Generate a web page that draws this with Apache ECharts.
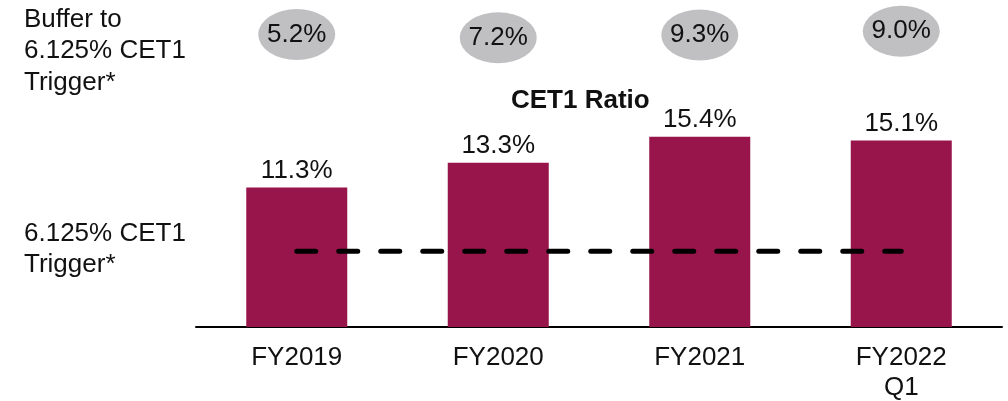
<!DOCTYPE html>
<html>
<head>
<meta charset="utf-8">
<script src="https://cdn.jsdelivr.net/npm/echarts@6/dist/echarts.min.js"></script>
<style>
  html, body { margin: 0; padding: 0; background: #fff; }
  #chart { width: 1008px; height: 401px; }
</style>
</head>
<body>
<div id="chart"></div>
<script>
// Periods on the x axis
const categories = ['FY2019', 'FY2020', 'FY2021', 'FY2022\nQ1'];
// CET1 ratio per period (%)
const cet1Ratio = [11.3, 13.3, 15.4, 15.1];
// Buffer above the trigger per period (percentage points)
const bufferToTrigger = [5.2, 7.2, 9.3, 9.0];
// Regulatory trigger level (%)
const triggerLevel = 6.125;

// Small vertical nudges for the buffer bubbles (style only)
const bubbleNudge = [-0.5, 2.7, 0, -3.7];

const FONT = '"Liberation Sans", Arial, sans-serif';
const chart = echarts.init(document.getElementById('chart'), null, { renderer: 'canvas' });

const option = {
  animation: false,
  backgroundColor: '#ffffff',
  grid: [
    { left: 196, right: 6, top: 80, bottom: 74, outerBoundsMode: 'none', containLabel: false },
    { left: 196, right: 6, top: 0, height: 70, outerBoundsMode: 'none', containLabel: false }
  ],
  xAxis: [
    {
      type: 'category', gridIndex: 0, data: categories,
      axisLine: { lineStyle: { color: '#000', width: 2 } },
      axisTick: { show: false },
      axisLabel: { color: '#111', fontSize: 26, fontFamily: FONT, margin: 16, lineHeight: 30 }
    },
    {
      type: 'category', gridIndex: 1, data: categories,
      show: false
    }
  ],
  yAxis: [
    { type: 'value', gridIndex: 0, min: 0, max: 20, show: false },
    { type: 'value', gridIndex: 1, min: 0, max: 1, show: false }
  ],
  series: [
    {
      name: 'CET1 Ratio',
      type: 'bar',
      xAxisIndex: 0, yAxisIndex: 0,
      data: cet1Ratio,
      barWidth: 101,
      itemStyle: { color: '#97154A' },
      label: {
        show: true, position: 'top', distance: 4,
        formatter: p => p.value.toFixed(1) + '%',
        color: '#111', fontSize: 26, fontFamily: FONT
      },
      z: 2
    },
    {
      name: 'Trigger',
      type: 'line',
      xAxisIndex: 0, yAxisIndex: 0,
      data: categories.map(() => triggerLevel),
      symbol: 'none',
      lineStyle: { color: '#000', width: 5, type: [19, 23], cap: 'round' },
      z: 5
    },
    {
      name: 'Buffer',
      type: 'scatter',
      xAxisIndex: 1, yAxisIndex: 1,
      data: bufferToTrigger.map((v, i) => ({
        value: [i, 0.5, v],
        symbolOffset: [0, bubbleNudge[i]]
      })),
      symbol: 'circle',
      symbolSize: [77, 51],
      itemStyle: { color: '#C0C0C3', opacity: 1 },
      label: {
        show: true, position: 'inside',
        formatter: p => p.value[2].toFixed(1) + '%',
        color: '#111', fontSize: 26, fontFamily: FONT,
        textBorderWidth: 0, opacity: 1
      }
    }
  ],
  graphic: [
    {
      type: 'text', left: 24, top: 4,
      style: {
        text: 'Buffer to\n6.125% CET1\nTrigger*',
        fill: '#111', font: '26px ' + FONT, lineHeight: 31.5
      }
    },
    {
      type: 'text', left: 24, top: 218,
      style: {
        text: '6.125% CET1\nTrigger*',
        fill: '#111', font: '26px ' + FONT, lineHeight: 31.5
      }
    },
    {
      type: 'text', left: 511, top: 88,
      style: {
        text: 'CET1 Ratio',
        fill: '#111', font: 'bold 26px ' + FONT
      }
    }
  ]
};

chart.setOption(option);
</script>
</body>
</html>
